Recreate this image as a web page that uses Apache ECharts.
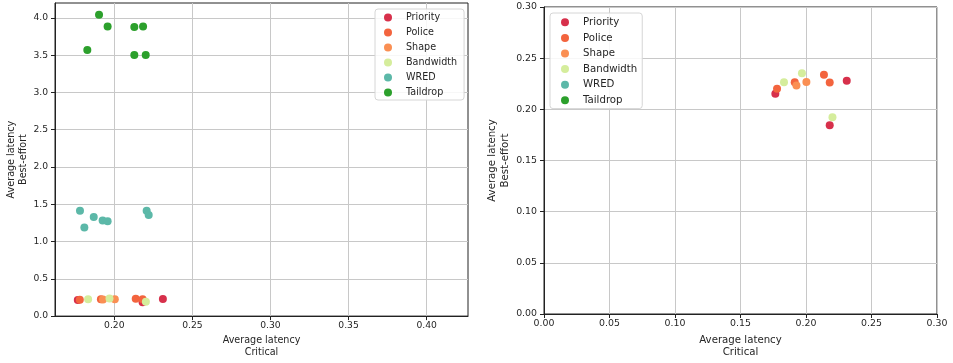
<!DOCTYPE html>
<html>
<head>
<meta charset="utf-8">
<script src="https://cdn.jsdelivr.net/npm/echarts@6/dist/echarts.min.js"></script>
<style>html,body{margin:0;padding:0;background:#fff}#c{width:953px;height:363px}</style>
</head>
<body>
<div id="c"></div>
<script>
// ---- data ----
const categories = ['Priority', 'Police', 'Shape', 'Bandwidth', 'WRED', 'Taildrop'];
const colors = ['#d7304b', '#f3643e', '#fa8f53', '#d5ed9c', '#5cb8a8', '#2ca02c'];

const priorityX = [0.1766, 0.2181, 0.2311];
const priorityY = [0.2153, 0.1844, 0.2280];
const policeX = [0.1779, 0.1914, 0.2137, 0.2181];
const policeY = [0.2201, 0.2264, 0.2337, 0.2262];
const shapeX = [0.1927, 0.2003];
const shapeY = [0.2232, 0.2267];
const bandwidthX = [0.1832, 0.1969, 0.2202];
const bandwidthY = [0.2264, 0.2353, 0.1923];
const wredX = [0.1780, 0.1868, 0.1808, 0.1925, 0.1957, 0.2207, 0.2220];
const wredY = [1.412, 1.329, 1.189, 1.281, 1.272, 1.412, 1.355];
const taildropX = [0.1902, 0.1957, 0.1827, 0.2128, 0.2184, 0.2128, 0.2201];
const taildropY = [4.044, 3.886, 3.570, 3.877, 3.886, 3.504, 3.504];

const leftXTicks = [0.20, 0.25, 0.30, 0.35, 0.40];
const leftYTicks = [0.0, 0.5, 1.0, 1.5, 2.0, 2.5, 3.0, 3.5, 4.0];

const xName = 'Average latency\nCritical';
const yName = 'Average latency\nBest-effort';

// ---- build ----
const seriesX = [priorityX, policeX, shapeX, bandwidthX, wredX, taildropX];
const seriesY = [priorityY, policeY, shapeY, bandwidthY, wredY, taildropY];
const FONT = 'DejaVu Sans';
const TXT = '#262626';
const GRIDC = '#c8c8c8';

function pairs(i) { return seriesX[i].map((x, k) => [x, seriesY[i][k]]); }

function axisCommon(fs) {
  return {
    axisLine: { show: true, onZero: false, lineStyle: { color: '#222', width: 1 } },
    axisTick: { show: true, inside: false, length: 4, lineStyle: { color: '#222', width: 1 } },
    splitLine: { show: true, lineStyle: { color: GRIDC, width: 1 } },
    nameTextStyle: { fontFamily: FONT, color: TXT },
    axisLabel: { fontFamily: FONT, color: TXT, fontSize: fs }
  };
}

function mk(base, extra) {
  const o = JSON.parse(JSON.stringify(base));
  for (const k in extra) {
    if (typeof extra[k] === 'object' && !Array.isArray(extra[k]) && o[k]) Object.assign(o[k], extra[k]);
    else o[k] = extra[k];
  }
  return o;
}

const xAxes = [
  mk(axisCommon(9.2), {
    type: 'value', gridIndex: 0, min: 0.162, max: 0.4265,
    name: xName, nameLocation: 'middle', nameGap: 18,
    nameTextStyle: { fontSize: 9.6, lineHeight: 11.5 },
    axisLabel: { customValues: leftXTicks, margin: 5, formatter: v => v.toFixed(2) },
    axisTick: { customValues: leftXTicks }
  }),
  mk(axisCommon(9.4), {
    type: 'value', gridIndex: 1, min: 0, max: 0.3, interval: 0.05,
    name: xName, nameLocation: 'middle', nameGap: 20,
    nameTextStyle: { fontSize: 10.2, lineHeight: 12 },
    axisLabel: { margin: 5, formatter: v => v.toFixed(2) }
  })
];
const yAxes = [
  mk(axisCommon(9.2), {
    type: 'value', gridIndex: 0, min: 0, max: 4.2,
    name: yName, nameLocation: 'middle', nameGap: 24,
    nameTextStyle: { fontSize: 9.6, lineHeight: 12.3 },
    axisLabel: { customValues: leftYTicks, margin: 7, formatter: v => v.toFixed(1) },
    axisTick: { customValues: leftYTicks }
  }),
  mk(axisCommon(9.4), {
    type: 'value', gridIndex: 1, min: 0, max: 0.3, interval: 0.05,
    name: yName, nameLocation: 'middle', nameGap: 32,
    nameTextStyle: { fontSize: 10.2, lineHeight: 13.3 },
    axisLabel: { margin: 7, formatter: v => v.toFixed(2) }
  })
];

const series = [];
[0, 1].forEach(g => {
  categories.forEach((name, i) => {
    series.push({
      type: 'scatter', name: name, xAxisIndex: g, yAxisIndex: g,
      data: pairs(i), symbolSize: 8, clip: true,
      itemStyle: { color: colors[i], opacity: 1 },
      emphasis: { disabled: true }
    });
  });
});

function legend(left, top, fs, lh, pad) {
  return {
    orient: 'vertical', left: left, top: top,
    data: categories, icon: 'circle', itemWidth: 26, itemHeight: 8, itemGap: 0,
    padding: pad,
    backgroundColor: 'rgba(255,255,255,0.85)', borderColor: '#d6d6d6', borderWidth: 1, borderRadius: 3,
    textStyle: { fontFamily: FONT, fontSize: fs, color: TXT, lineHeight: lh, height: lh },
    selectedMode: false
  };
}

const option = {
  animation: false,
  backgroundColor: '#fff',
  color: colors,
  grid: [
    { left: 55, right: 485, top: 3, bottom: 41, show: true, borderColor: '#222', borderWidth: 1, backgroundColor: 'transparent' },
    { left: 544, right: 16, top: 7, bottom: 42, show: true, borderColor: '#222', borderWidth: 1, backgroundColor: 'transparent' }
  ],
  xAxis: xAxes,
  yAxis: yAxes,
  legend: [legend(375, 9, 9.6, 15, [1, 7, 0, 9]), legend(550, 13, 10.2, 15.6, [1.5, 5, 0.5, 11])],
  series: series
};

const chart = echarts.init(document.getElementById('c'), null, { renderer: 'canvas' });
chart.setOption(option);
</script>
</body>
</html>
